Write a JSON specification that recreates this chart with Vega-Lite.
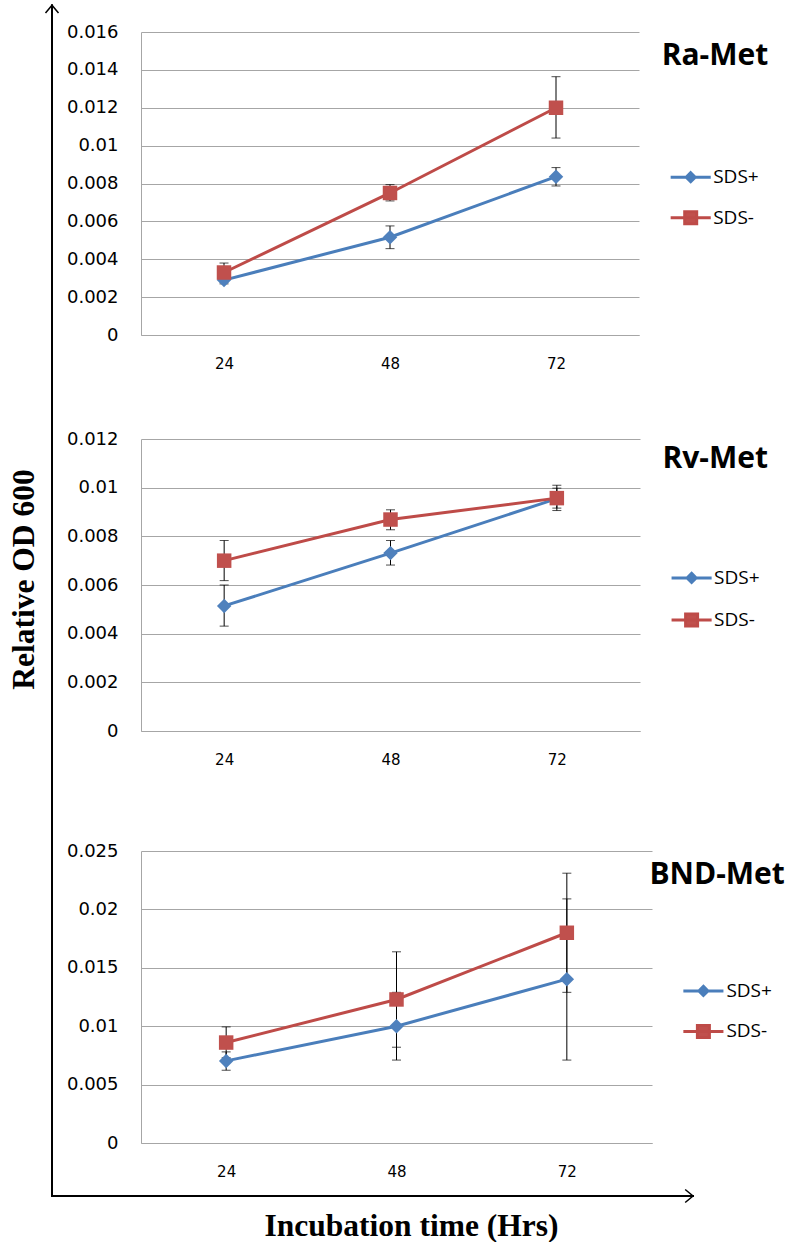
{
  "$schema": "https://vega.github.io/schema/vega-lite/v6.json",
  "background": "white",
  "padding": {"left": 8, "top": 2, "right": 0, "bottom": 0},
  "bounds": "flush",
  "spacing": 88,
  "datasets": {
    "ra": [
      {"time": "24", "series": "SDS+", "od": 0.0029, "lo": 0.0027, "hi": 0.0031},
      {"time": "48", "series": "SDS+", "od": 0.00516, "lo": 0.00456, "hi": 0.00576},
      {"time": "72", "series": "SDS+", "od": 0.00836, "lo": 0.00787, "hi": 0.00884},
      {"time": "24", "series": "SDS-", "od": 0.0033, "lo": 0.0028, "hi": 0.0038},
      {"time": "48", "series": "SDS-", "od": 0.0075, "lo": 0.00708, "hi": 0.00794},
      {"time": "72", "series": "SDS-", "od": 0.012, "lo": 0.0104, "hi": 0.01364}
    ],
    "rv": [
      {"time": "24", "series": "SDS+", "od": 0.00514, "lo": 0.00431, "hi": 0.006},
      {"time": "48", "series": "SDS+", "od": 0.00731, "lo": 0.00682, "hi": 0.00783},
      {"time": "72", "series": "SDS+", "od": 0.00955, "lo": 0.00906, "hi": 0.0101},
      {"time": "24", "series": "SDS-", "od": 0.007, "lo": 0.00618, "hi": 0.00783},
      {"time": "48", "series": "SDS-", "od": 0.00869, "lo": 0.00827, "hi": 0.00909},
      {"time": "72", "series": "SDS-", "od": 0.00957, "lo": 0.00916, "hi": 0.00998}
    ],
    "bnd": [
      {"time": "24", "series": "SDS+", "od": 0.00703, "lo": 0.00623, "hi": 0.0078},
      {"time": "48", "series": "SDS+", "od": 0.01, "lo": 0.0071, "hi": 0.0129},
      {"time": "72", "series": "SDS+", "od": 0.01403, "lo": 0.0071, "hi": 0.0209},
      {"time": "24", "series": "SDS-", "od": 0.0086, "lo": 0.0073, "hi": 0.00994},
      {"time": "48", "series": "SDS-", "od": 0.01229, "lo": 0.0082, "hi": 0.01637},
      {"time": "72", "series": "SDS-", "od": 0.018, "lo": 0.0129, "hi": 0.0231}
    ],
    "frame": [{"origin": 0, "xEnd": 1, "yEnd": 1.023}]
  },
  "hconcat": [
    {
      "width": 1,
      "height": 1164,
      "data": {"name": "frame"},
      "layer": [
        {
          "mark": {"type": "rule", "color": "black", "strokeWidth": 2, "strokeCap": "square", "clip": false},
          "encoding": {
            "x": {"field": "origin", "type": "quantitative", "scale": {"domain": [0, 1], "range": [0, 641], "nice": false, "zero": false},
              "axis": {"title": "Incubation time (Hrs)", "domain": false, "ticks": false, "labels": false, "grid": false,
                "titleFont": "Liberation Serif", "titleFontSize": 31.5, "titleFontWeight": "bold", "titleColor": "black", "titlePadding": 14, "titleX": 359}},
            "y": {"field": "origin", "type": "quantitative", "scale": {"domain": [0, 1], "nice": false, "zero": false},
              "axis": {"title": "Relative OD 600", "domain": false, "ticks": false, "labels": false, "grid": false,
                "titleFont": "Liberation Serif", "titleFontSize": 31.5, "titleFontWeight": "bold", "titleColor": "black", "titlePadding": 12, "titleY": 547}},
            "y2": {"field": "yEnd"}
          }
        },
        {
          "mark": {"type": "rule", "color": "black", "strokeWidth": 2, "strokeCap": "square", "clip": false},
          "encoding": {
            "x": {"field": "origin", "type": "quantitative", "scale": {"domain": [0, 1], "range": [0, 641], "nice": false, "zero": false},
              "axis": {"title": "Incubation time (Hrs)", "domain": false, "ticks": false, "labels": false, "grid": false,
                "titleFont": "Liberation Serif", "titleFontSize": 31.5, "titleFontWeight": "bold", "titleColor": "black", "titlePadding": 14, "titleX": 359}},
            "x2": {"field": "xEnd"},
            "y": {"field": "origin", "type": "quantitative", "scale": {"domain": [0, 1], "nice": false, "zero": false},
              "axis": {"title": "Relative OD 600", "domain": false, "ticks": false, "labels": false, "grid": false,
                "titleFont": "Liberation Serif", "titleFontSize": 31.5, "titleFontWeight": "bold", "titleColor": "black", "titlePadding": 12, "titleY": 547}}
          }
        },
        {
          "mark": {"type": "point", "shape": "M-1,1.2L0,0L1,1.2", "filled": false, "stroke": "black", "strokeWidth": 1.5, "size": 169, "opacity": 1, "clip": false},
          "encoding": {
            "x": {"field": "origin", "type": "quantitative", "scale": {"domain": [0, 1], "range": [0, 641], "nice": false, "zero": false},
              "axis": {"title": "Incubation time (Hrs)", "domain": false, "ticks": false, "labels": false, "grid": false,
                "titleFont": "Liberation Serif", "titleFontSize": 31.5, "titleFontWeight": "bold", "titleColor": "black", "titlePadding": 14, "titleX": 359}},
            "y": {"field": "yEnd", "type": "quantitative", "scale": {"domain": [0, 1], "nice": false, "zero": false},
              "axis": {"title": "Relative OD 600", "domain": false, "ticks": false, "labels": false, "grid": false,
                "titleFont": "Liberation Serif", "titleFontSize": 31.5, "titleFontWeight": "bold", "titleColor": "black", "titlePadding": 12, "titleY": 547}}
          }
        },
        {
          "mark": {"type": "point", "shape": "M-1.2,-1L0,0L-1.2,1", "filled": false, "stroke": "black", "strokeWidth": 1.5, "size": 169, "opacity": 1, "clip": false},
          "encoding": {
            "x": {"field": "xEnd", "type": "quantitative", "scale": {"domain": [0, 1], "range": [0, 641], "nice": false, "zero": false},
              "axis": {"title": "Incubation time (Hrs)", "domain": false, "ticks": false, "labels": false, "grid": false,
                "titleFont": "Liberation Serif", "titleFontSize": 31.5, "titleFontWeight": "bold", "titleColor": "black", "titlePadding": 14, "titleX": 359}},
            "y": {"field": "origin", "type": "quantitative", "scale": {"domain": [0, 1], "nice": false, "zero": false},
              "axis": {"title": "Relative OD 600", "domain": false, "ticks": false, "labels": false, "grid": false,
                "titleFont": "Liberation Serif", "titleFontSize": 31.5, "titleFontWeight": "bold", "titleColor": "black", "titlePadding": 12, "titleY": 547}}
          }
        }
      ]
    },
    {
      "bounds": "flush",
      "spacing": 104,
      "resolve": {"scale": {"shape": "independent", "fill": "independent", "stroke": "independent"}, "legend": {"shape": "independent", "fill": "independent", "stroke": "independent"}},
      "vconcat": [
        {
          "width": 498,
          "height": 303,
          "data": {"name": "ra"},
          "encoding": {"x": {"field": "time", "type": "ordinal", "scale": {"type": "point", "padding": 0.5}, "axis": {"title": null}}},
          "layer": [
            {
              "mark": {"type": "errorbar", "color": "black", "thickness": 1, "ticks": {"size": 9, "thickness": 1, "color": "black"}},
              "encoding": {
                "y": {"field": "lo", "type": "quantitative", "scale": {"domain": [0, 0.016], "nice": false},
                  "axis": {"title": null, "values": [0, 0.002, 0.004, 0.006, 0.008, 0.01, 0.012, 0.014, 0.016], "format": "~g"}},
                "y2": {"field": "hi"}
              }
            },
            {
              "transform": [{"filter": "datum.series === 'SDS+'"}],
              "mark": {"type": "line", "strokeWidth": 3, "color": "#4a7ebb"},
              "encoding": {
                "y": {"field": "od", "type": "quantitative", "scale": {"domain": [0, 0.016], "nice": false},
                  "axis": {"title": null, "values": [0, 0.002, 0.004, 0.006, 0.008, 0.01, 0.012, 0.014, 0.016], "format": "~g"}}
              }
            },
            {
              "transform": [{"filter": "datum.series === 'SDS-'"}],
              "mark": {"type": "line", "strokeWidth": 3, "color": "#be4b48"},
              "encoding": {
                "y": {"field": "od", "type": "quantitative", "scale": {"domain": [0, 0.016], "nice": false},
                  "axis": {"title": null, "values": [0, 0.002, 0.004, 0.006, 0.008, 0.01, 0.012, 0.014, 0.016], "format": "~g"}}
              }
            },
            {
              "mark": {"type": "point", "filled": true, "opacity": 0},
              "encoding": {
                "y": {"field": "od", "type": "quantitative", "scale": {"domain": [0, 0.016], "nice": false},
                  "axis": {"title": null, "values": [0, 0.002, 0.004, 0.006, 0.008, 0.01, 0.012, 0.014, 0.016], "format": "~g"}},
                "fill": {"field": "series", "type": "nominal", "scale": {"domain": ["SDS+", "SDS-"], "range": ["#4f81bd", "#c0504d"]},
                  "legend": {"title": "Ra-Met", "orient": "right", "offset": 14, "padding": 8.7, "titlePadding": 93,
                    "symbolOffset": 15.5, "labelOffset": 9, "rowPadding": 16.5}},
                "stroke": {"field": "series", "type": "nominal", "scale": {"domain": ["SDS+", "SDS-"], "range": ["#4a7ebb", "#be4b48"]},
                  "legend": {"title": "Ra-Met", "orient": "right", "offset": 14, "padding": 8.7, "titlePadding": 93,
                    "symbolOffset": 15.5, "labelOffset": 9, "rowPadding": 16.5}},
                "shape": {"field": "series", "type": "nominal", "scale": {"domain": ["SDS+", "SDS-"], "range": ["M-1.67,0H1.67M0,-0.375L0.375,0L0,0.375L-0.375,0Z", "M-1.67,0H1.67M-0.5,-0.5H0.5V0.5H-0.5Z"]},
                  "legend": {"title": "Ra-Met", "orient": "right", "offset": 14, "padding": 8.7, "titlePadding": 93,
                    "symbolOffset": 15.5, "labelOffset": 9, "rowPadding": 16.5}}
              }
            },
            {
              "transform": [{"filter": "datum.series === 'SDS+'"}],
              "mark": {"type": "point", "shape": "diamond", "filled": true, "color": "#4f81bd", "opacity": 1, "size": 210, "strokeWidth": 0},
              "encoding": {
                "y": {"field": "od", "type": "quantitative", "scale": {"domain": [0, 0.016], "nice": false},
                  "axis": {"title": null, "values": [0, 0.002, 0.004, 0.006, 0.008, 0.01, 0.012, 0.014, 0.016], "format": "~g"}}
              }
            },
            {
              "transform": [{"filter": "datum.series === 'SDS-'"}],
              "mark": {"type": "point", "shape": "square", "filled": true, "color": "#c0504d", "opacity": 1, "size": 210, "strokeWidth": 0},
              "encoding": {
                "y": {"field": "od", "type": "quantitative", "scale": {"domain": [0, 0.016], "nice": false},
                  "axis": {"title": null, "values": [0, 0.002, 0.004, 0.006, 0.008, 0.01, 0.012, 0.014, 0.016], "format": "~g"}}
              }
            }
          ]
        },
        {
          "bounds": "flush",
          "spacing": 120,
          "resolve": {"scale": {"shape": "independent", "fill": "independent", "stroke": "independent"}, "legend": {"shape": "independent", "fill": "independent", "stroke": "independent"}},
          "vconcat": [
            {
              "width": 499,
              "height": 292,
              "data": {"name": "rv"},
              "encoding": {"x": {"field": "time", "type": "ordinal", "scale": {"type": "point", "padding": 0.5}, "axis": {"title": null}}},
              "layer": [
                {
                  "mark": {"type": "errorbar", "color": "black", "thickness": 1, "ticks": {"size": 9, "thickness": 1, "color": "black"}},
                  "encoding": {
                    "y": {"field": "lo", "type": "quantitative", "scale": {"domain": [0, 0.012], "nice": false},
                      "axis": {"title": null, "values": [0, 0.002, 0.004, 0.006, 0.008, 0.01, 0.012], "format": "~g"}},
                    "y2": {"field": "hi"}
                  }
                },
                {
                  "transform": [{"filter": "datum.series === 'SDS+'"}],
                  "mark": {"type": "line", "strokeWidth": 3, "color": "#4a7ebb"},
                  "encoding": {
                    "y": {"field": "od", "type": "quantitative", "scale": {"domain": [0, 0.012], "nice": false},
                      "axis": {"title": null, "values": [0, 0.002, 0.004, 0.006, 0.008, 0.01, 0.012], "format": "~g"}}
                  }
                },
                {
                  "transform": [{"filter": "datum.series === 'SDS-'"}],
                  "mark": {"type": "line", "strokeWidth": 3, "color": "#be4b48"},
                  "encoding": {
                    "y": {"field": "od", "type": "quantitative", "scale": {"domain": [0, 0.012], "nice": false},
                      "axis": {"title": null, "values": [0, 0.002, 0.004, 0.006, 0.008, 0.01, 0.012], "format": "~g"}}
                  }
                },
                {
                  "mark": {"type": "point", "filled": true, "opacity": 0},
                  "encoding": {
                    "y": {"field": "od", "type": "quantitative", "scale": {"domain": [0, 0.012], "nice": false},
                      "axis": {"title": null, "values": [0, 0.002, 0.004, 0.006, 0.008, 0.01, 0.012], "format": "~g"}},
                    "fill": {"field": "series", "type": "nominal", "scale": {"domain": ["SDS+", "SDS-"], "range": ["#4f81bd", "#c0504d"]},
                      "legend": {"title": "Rv-Met", "orient": "right", "offset": 16.5, "padding": 5.4, "titlePadding": 90,
                        "symbolOffset": 15.7, "labelOffset": 9, "rowPadding": 18}},
                    "stroke": {"field": "series", "type": "nominal", "scale": {"domain": ["SDS+", "SDS-"], "range": ["#4a7ebb", "#be4b48"]},
                      "legend": {"title": "Rv-Met", "orient": "right", "offset": 16.5, "padding": 5.4, "titlePadding": 90,
                        "symbolOffset": 15.7, "labelOffset": 9, "rowPadding": 18}},
                    "shape": {"field": "series", "type": "nominal", "scale": {"domain": ["SDS+", "SDS-"], "range": ["M-1.67,0H1.67M0,-0.375L0.375,0L0,0.375L-0.375,0Z", "M-1.67,0H1.67M-0.5,-0.5H0.5V0.5H-0.5Z"]},
                      "legend": {"title": "Rv-Met", "orient": "right", "offset": 16.5, "padding": 5.4, "titlePadding": 90,
                        "symbolOffset": 15.7, "labelOffset": 9, "rowPadding": 18}}
                  }
                },
                {
                  "transform": [{"filter": "datum.series === 'SDS+'"}],
                  "mark": {"type": "point", "shape": "diamond", "filled": true, "color": "#4f81bd", "opacity": 1, "size": 210, "strokeWidth": 0},
                  "encoding": {
                    "y": {"field": "od", "type": "quantitative", "scale": {"domain": [0, 0.012], "nice": false},
                      "axis": {"title": null, "values": [0, 0.002, 0.004, 0.006, 0.008, 0.01, 0.012], "format": "~g"}}
                  }
                },
                {
                  "transform": [{"filter": "datum.series === 'SDS-'"}],
                  "mark": {"type": "point", "shape": "square", "filled": true, "color": "#c0504d", "opacity": 1, "size": 210, "strokeWidth": 0},
                  "encoding": {
                    "y": {"field": "od", "type": "quantitative", "scale": {"domain": [0, 0.012], "nice": false},
                      "axis": {"title": null, "values": [0, 0.002, 0.004, 0.006, 0.008, 0.01, 0.012], "format": "~g"}}
                  }
                }
              ]
            },
            {
              "width": 511,
              "height": 292,
              "data": {"name": "bnd"},
              "encoding": {"x": {"field": "time", "type": "ordinal", "scale": {"type": "point", "padding": 0.5}, "axis": {"title": null}}},
              "layer": [
                {
                  "mark": {"type": "errorbar", "color": "black", "thickness": 1, "ticks": {"size": 9, "thickness": 1, "color": "black"}},
                  "encoding": {
                    "y": {"field": "lo", "type": "quantitative", "scale": {"domain": [0, 0.025], "nice": false},
                      "axis": {"title": null, "values": [0, 0.005, 0.01, 0.015, 0.02, 0.025], "format": "~g"}},
                    "y2": {"field": "hi"}
                  }
                },
                {
                  "transform": [{"filter": "datum.series === 'SDS+'"}],
                  "mark": {"type": "line", "strokeWidth": 3, "color": "#4a7ebb"},
                  "encoding": {
                    "y": {"field": "od", "type": "quantitative", "scale": {"domain": [0, 0.025], "nice": false},
                      "axis": {"title": null, "values": [0, 0.005, 0.01, 0.015, 0.02, 0.025], "format": "~g"}}
                  }
                },
                {
                  "transform": [{"filter": "datum.series === 'SDS-'"}],
                  "mark": {"type": "line", "strokeWidth": 3, "color": "#be4b48"},
                  "encoding": {
                    "y": {"field": "od", "type": "quantitative", "scale": {"domain": [0, 0.025], "nice": false},
                      "axis": {"title": null, "values": [0, 0.005, 0.01, 0.015, 0.02, 0.025], "format": "~g"}}
                  }
                },
                {
                  "mark": {"type": "point", "filled": true, "opacity": 0},
                  "encoding": {
                    "y": {"field": "od", "type": "quantitative", "scale": {"domain": [0, 0.025], "nice": false},
                      "axis": {"title": null, "values": [0, 0.005, 0.01, 0.015, 0.02, 0.025], "format": "~g"}},
                    "fill": {"field": "series", "type": "nominal", "scale": {"domain": ["SDS+", "SDS-"], "range": ["#4f81bd", "#c0504d"]},
                      "legend": {"title": "BND-Met", "orient": "right", "offset": -12, "padding": 9.4, "titlePadding": 87,
                        "symbolOffset": 40.5, "labelOffset": 9.5, "rowPadding": 16.5}},
                    "stroke": {"field": "series", "type": "nominal", "scale": {"domain": ["SDS+", "SDS-"], "range": ["#4a7ebb", "#be4b48"]},
                      "legend": {"title": "BND-Met", "orient": "right", "offset": -12, "padding": 9.4, "titlePadding": 87,
                        "symbolOffset": 40.5, "labelOffset": 9.5, "rowPadding": 16.5}},
                    "shape": {"field": "series", "type": "nominal", "scale": {"domain": ["SDS+", "SDS-"], "range": ["M-1.67,0H1.67M0,-0.375L0.375,0L0,0.375L-0.375,0Z", "M-1.67,0H1.67M-0.5,-0.5H0.5V0.5H-0.5Z"]},
                      "legend": {"title": "BND-Met", "orient": "right", "offset": -12, "padding": 9.4, "titlePadding": 87,
                        "symbolOffset": 40.5, "labelOffset": 9.5, "rowPadding": 16.5}}
                  }
                },
                {
                  "transform": [{"filter": "datum.series === 'SDS+'"}],
                  "mark": {"type": "point", "shape": "diamond", "filled": true, "color": "#4f81bd", "opacity": 1, "size": 210, "strokeWidth": 0},
                  "encoding": {
                    "y": {"field": "od", "type": "quantitative", "scale": {"domain": [0, 0.025], "nice": false},
                      "axis": {"title": null, "values": [0, 0.005, 0.01, 0.015, 0.02, 0.025], "format": "~g"}}
                  }
                },
                {
                  "transform": [{"filter": "datum.series === 'SDS-'"}],
                  "mark": {"type": "point", "shape": "square", "filled": true, "color": "#c0504d", "opacity": 1, "size": 210, "strokeWidth": 0},
                  "encoding": {
                    "y": {"field": "od", "type": "quantitative", "scale": {"domain": [0, 0.025], "nice": false},
                      "axis": {"title": null, "values": [0, 0.005, 0.01, 0.015, 0.02, 0.025], "format": "~g"}}
                  }
                }
              ]
            }
          ]
        }
      ]
    }
  ],
  "config": {
    "view": {"stroke": null},
    "axisY": {"grid": true, "gridColor": "#a6a6a6", "gridWidth": 1, "domainColor": "#a6a6a6", "domainWidth": 1, "ticks": false, "tickSize": 0,
      "labelPadding": 23, "labelFont": "DejaVu Sans", "labelFontSize": 18, "labelColor": "#000000"},
    "axisX": {"grid": false, "domainColor": "#a6a6a6", "domainWidth": 1, "ticks": false, "tickSize": 0,
      "labelPadding": 21, "labelFont": "DejaVu Sans", "labelFontSize": 15, "labelColor": "#000000", "labelAngle": 0},
    "legend": {"titleFont": "Open Sans", "titleFontSize": 30, "titleFontWeight": "bold", "titleColor": "#000000",
      "labelFont": "Open Sans", "labelFontSize": 19, "labelColor": "#000000", "symbolSize": 576, "symbolStrokeWidth": 3, "symbolOpacity": 1,
      "titleLimit": 400, "labelLimit": 300, "titleAnchor": "start"}
  }
}
